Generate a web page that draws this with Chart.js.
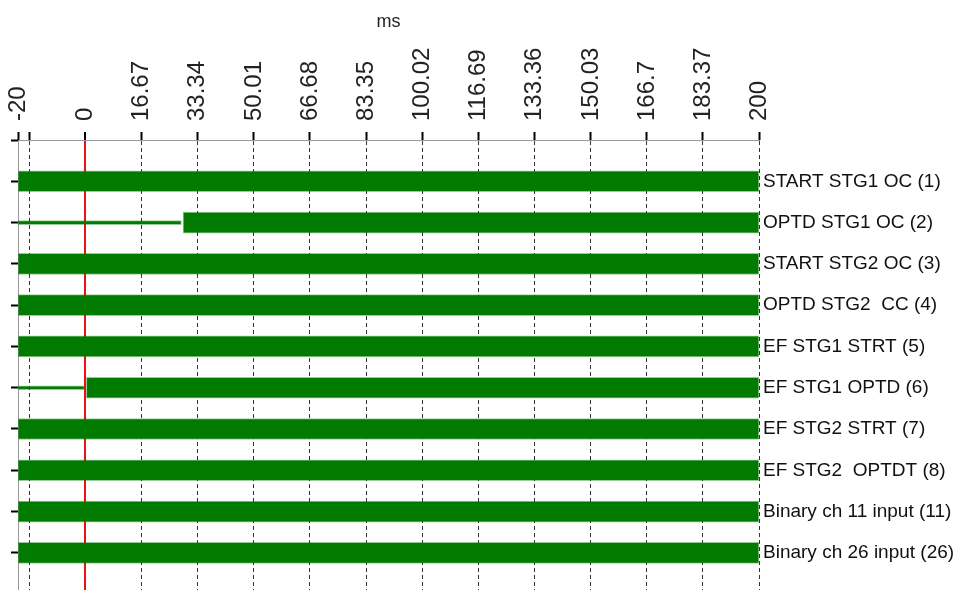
<!DOCTYPE html>
<html>
<head>
<meta charset="utf-8">
<script src="https://cdn.jsdelivr.net/npm/chart.js@4/dist/chart.umd.min.js"></script>
<style>
  body { margin: 0; background: #fff; }
  #wrap { width: 955px; height: 590px; }
</style>
</head>
<body>
<div id="wrap"><canvas id="myChart"></canvas></div>
<script>
// signal names, top to bottom
const channels = ['START STG1 OC (1)', 'OPTD STG1 OC (2)', 'START STG2 OC (3)', 'OPTD STG2  CC (4)',
  'EF STG1 STRT (5)', 'EF STG1 OPTD (6)', 'EF STG2 STRT (7)', 'EF STG2  OPTDT (8)',
  'Binary ch 11 input (11)', 'Binary ch 26 input (26)']
// thick bar = signal high (ms)
const highStart = [-20, 29, -20, -20, -20, 0, -20, -20, -20, -20]
const highEnd   = [200, 200, 200, 200, 200, 200, 200, 200, 200, 200]
// thin line = signal low (ms)
const lowStart = [null, -20, null, null, null, -20, null, null, null, null]
const lowEnd   = [null, 28.5, null, null, null, 0, null, null, null, null]
// time axis ticks
const tickValues = [-20, -16.67, 0, 16.67, 33.34, 50.01, 66.68, 83.35, 100.02, 116.69, 133.36, 150.03, 166.7, 183.37, 200]
const tickLabels = ['-20', '', '0', '16.67', '33.34', '50.01', '66.68', '83.35', '100.02', '116.69', '133.36', '150.03', '166.7', '183.37', '200']
const triggerTime = 0

const green = '#007a00'
const rows = channels.map((c, i) => i + 1)

function seg(starts, ends) {
  return rows.map((r, i) => starts[i] === null ? null : { x: [starts[i], ends[i]], y: r }).filter(d => d)
}

// kill the auto padding chart.js adds for edge labels
function noPad(s) {
  s.paddingLeft = 0; s.paddingRight = 0; s.paddingTop = 0; s.paddingBottom = 0
}

function isTrigger(c) { return c.tick && c.tick.value === triggerTime }

var ctx = document.getElementById('myChart').getContext('2d')
var myChart = new Chart(ctx, {
  type: 'bar',
  data: {
    datasets: [{
      data: seg(highStart, highEnd),
      backgroundColor: green,
      borderColor: 'rgba(0,122,0,0.4)',
      borderWidth: 1,
      borderSkipped: false,
      barThickness: 21,
      grouped: false
    }, {
      data: seg(lowStart, lowEnd),
      backgroundColor: green,
      borderColor: 'rgba(0,122,0,0.4)',
      borderWidth: 1,
      borderSkipped: false,
      barThickness: 4,
      grouped: false
    }]
  },
  options: {
    indexAxis: 'y',
    responsive: true,
    maintainAspectRatio: false,
    animation: false,
    layout: { padding: 0 },
    plugins: { legend: { display: false }, tooltip: { enabled: false } },
    scales: {
      x: {
        type: 'linear',
        position: 'top',
        min: -20,
        max: 200,
        offset: false,
        afterBuildTicks: s => { s.ticks = tickValues.map(v => ({ value: v })) },
        afterFit: s => { s.height = 140; noPad(s) },
        ticks: {
          autoSkip: false,
          minRotation: 90,
          maxRotation: 90,
          padding: 11,
          labelOffset: 29,
          color: '#222',
          font: { family: 'Liberation Sans', size: 24 },
          callback: (v, i) => tickLabels[i]
        },
        grid: {
          offset: false,
          color: c => isTrigger(c) ? '#e81010' : (c.tick && c.tick.value === -20 ? 'rgba(0,0,0,0)' : '#333'),
          lineWidth: c => isTrigger(c) ? 2 : 1,
          tickLength: 8,
          tickColor: '#000',
          tickWidth: 2
        },
        border: {
          color: '#999',
          width: 1,
          dash: c => c.tick && !isTrigger(c) ? [4, 3] : []
        },
        title: {
          display: true,
          text: 'ms',
          color: '#222',
          font: { family: 'Liberation Sans', size: 18 },
          padding: { top: 11, bottom: 0 }
        }
      },
      y: {
        type: 'linear',
        position: 'left',
        reverse: true,
        min: 0,
        max: 10.9,
        offset: false,
        afterBuildTicks: s => { s.ticks = [0].concat(rows).map(v => ({ value: v })) },
        afterFit: s => { s.width = 18; noPad(s) },
        ticks: { display: false },
        grid: { offset: false, drawOnChartArea: false, tickLength: 7, tickColor: '#000', tickWidth: 2 },
        border: { color: '#999', width: 1 }
      },
      y2: {
        type: 'linear',
        position: 'right',
        reverse: true,
        min: 0,
        max: 10.9,
        offset: false,
        afterBuildTicks: s => { s.ticks = rows.map(v => ({ value: v })) },
        afterFit: s => { s.width = 196; noPad(s) },
        ticks: {
          padding: 4,
          color: '#111',
          font: { family: 'Liberation Sans', size: 19 },
          callback: v => channels[v - 1]
        },
        grid: { offset: false, display: false, drawTicks: false },
        border: { display: false }
      }
    }
  }
})
</script>
</body>
</html>
